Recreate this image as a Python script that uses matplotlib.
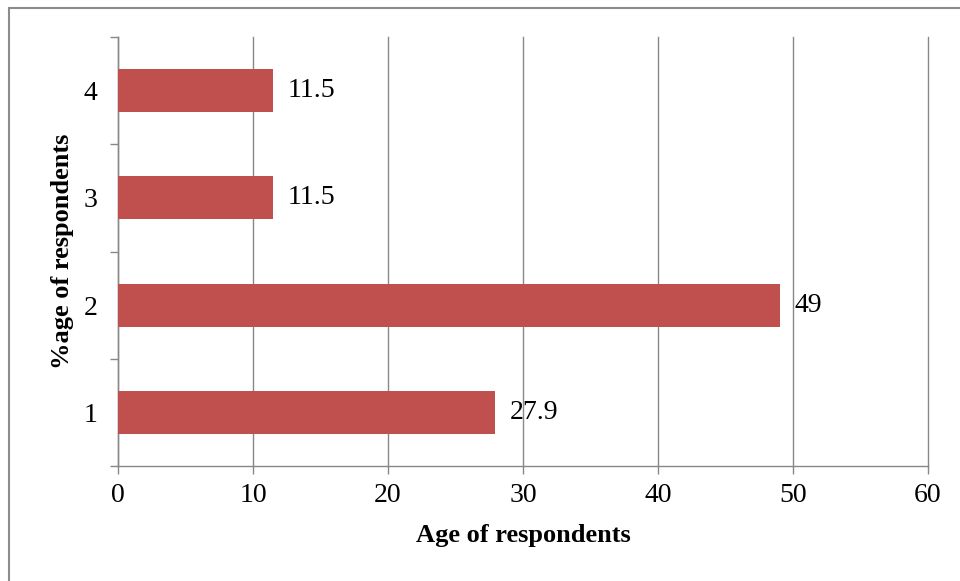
import numpy as np
import matplotlib.pyplot as plt
from matplotlib.patches import Rectangle

#%% data
categories = ['1', '2', '3', '4']
values = [27.9, 49, 11.5, 11.5]
value_labels = ['27.9', '49', '11.5', '11.5']
xticks = [0, 10, 20, 30, 40, 50, 60]

plt.rcParams['font.family'] = ['Liberation Serif', 'DejaVu Serif']

#%% plot
fig = plt.figure(figsize=(9.6, 5.81), dpi=100)
ax = fig.add_axes([118/960, 1 - 466/581, 810/960, 429/581])

gray = '#888888'
pos = np.arange(1, len(categories) + 1)
ax.barh(pos, values, height=0.4, color='#C0504D', zorder=3)

for p, v, lab in zip(pos, values, value_labels):
    ax.text(v + 1.1, p, lab, va='center', ha='left', fontsize=20, color='black')

ax.set_xlim(0, 60)
ax.set_ylim(0.5, 4.5)
ax.set_xticks(xticks)
ax.set_yticks(pos)
ax.set_yticklabels(categories)
ax.set_yticks(np.arange(0.5, 5, 1), minor=True)

ax.tick_params(axis='y', which='major', length=0, pad=15, labelsize=20)
ax.tick_params(axis='y', which='minor', length=6, color=gray, width=1)
ax.tick_params(axis='x', length=6, color=gray, width=1, pad=6, labelsize=20)

ax.grid(axis='x', color=gray, lw=1, zorder=0)
for line in ax.get_xgridlines():
    line.set_clip_on(False)
for s in ['top', 'right']:
    ax.spines[s].set_visible(False)
for s in ['left', 'bottom']:
    ax.spines[s].set_color(gray)
    ax.spines[s].set_linewidth(1)

ax.set_xlabel('Age of respondents', fontsize=19, fontweight='bold', labelpad=12)
ax.set_ylabel('%age of respondents', fontsize=19, fontweight='bold', labelpad=7)

# outer chart border
fig.patches.append(Rectangle((9/960, -0.05), 1.0, 1 - 8/581 + 0.05,
                             transform=fig.transFigure, fill=False,
                             edgecolor='#8c8c8c', lw=1.5))

fig.savefig('out.png', dpi=100)
